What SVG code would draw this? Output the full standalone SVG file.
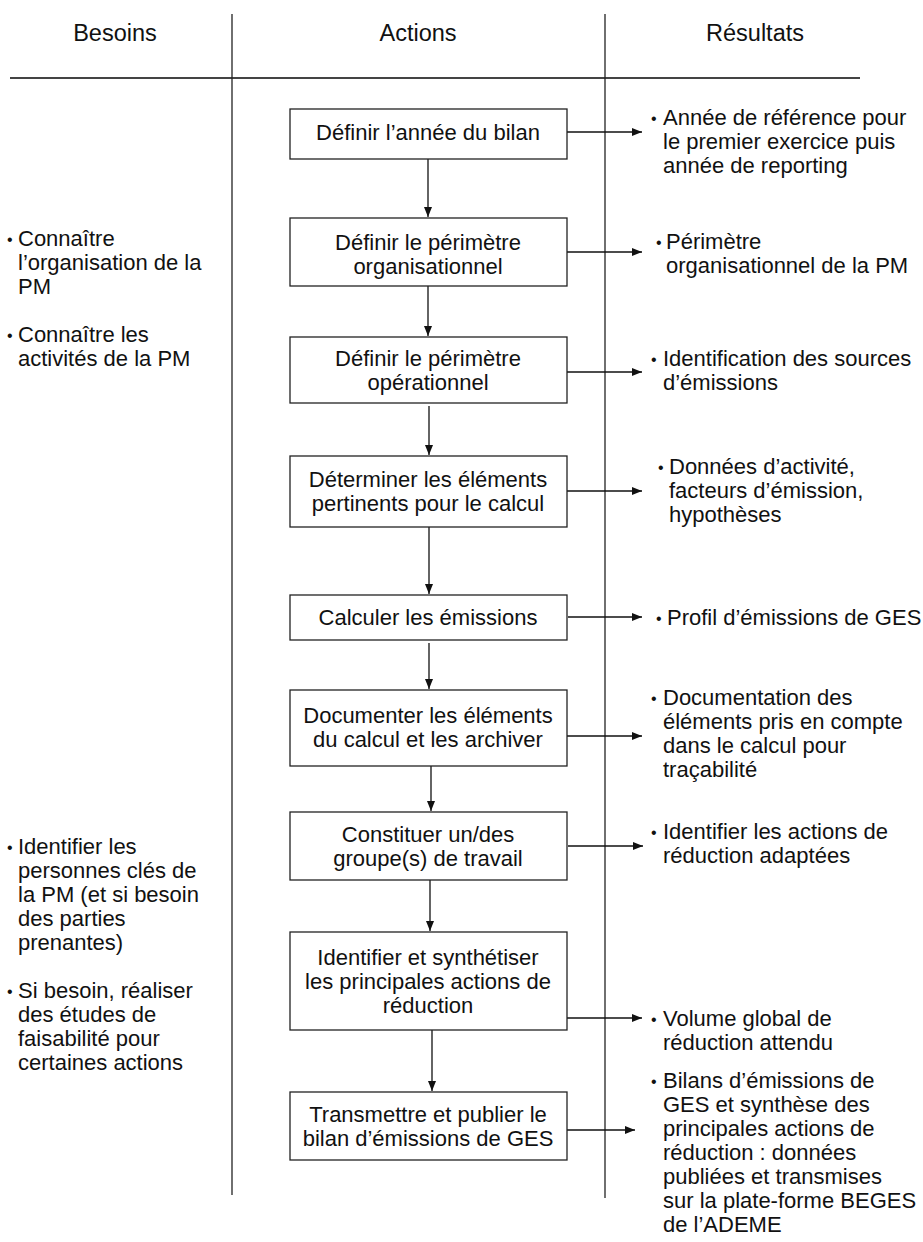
<svg xmlns="http://www.w3.org/2000/svg" width="923" height="1242" viewBox="0 0 923 1242">
<style>
text{font-family:"Liberation Sans",Arial,Helvetica,sans-serif;font-size:22px;fill:#111}
.h{font-size:23.5px}
.c{text-anchor:middle}
.b{font-size:16px}
.box{fill:#fff;stroke:#222;stroke-width:1.3}
.ln{stroke:#222;stroke-width:1.3;fill:none}
.ar{stroke:#111;stroke-width:1.3;fill:none;marker-end:url(#ah)}
</style>
<defs>
<marker id="ah" viewBox="0 0 10 8" refX="10" refY="4" markerWidth="10" markerHeight="8" markerUnits="userSpaceOnUse" orient="auto">
<path d="M0,0 L10,4 L0,8 Z" fill="#111"/>
</marker>
</defs>
<rect width="923" height="1242" fill="#fff"/>
<g id="frame">
<line class="ln" x1="10" y1="78" x2="860" y2="78" style="stroke:#444;stroke-width:2"/>
<line class="ln" x1="232" y1="14" x2="232" y2="1195"/>
<line class="ln" x1="605" y1="14" x2="605" y2="1198"/>
<text class="h c" x="115" y="41">Besoins</text>
<text class="h c" x="418" y="41">Actions</text>
<text class="h c" x="755" y="41">Résultats</text>
</g>
<g id="connectors">
<line class="ar" x1="428" y1="159" x2="428" y2="217"/>
<line class="ar" x1="428" y1="286" x2="428" y2="336"/>
<line class="ar" x1="429" y1="406" x2="429" y2="455"/>
<line class="ar" x1="429" y1="527" x2="429" y2="594"/>
<line class="ar" x1="429" y1="643" x2="429" y2="689"/>
<line class="ar" x1="431" y1="766" x2="431" y2="811"/>
<line class="ar" x1="430" y1="880" x2="430" y2="931"/>
<line class="ar" x1="432" y1="1030" x2="432" y2="1091"/>
<line class="ar" x1="567" y1="132" x2="642" y2="132"/>
<line class="ar" x1="567" y1="252" x2="642" y2="252"/>
<line class="ar" x1="567" y1="372" x2="642" y2="372"/>
<line class="ar" x1="567" y1="491" x2="642" y2="491"/>
<line class="ar" x1="568" y1="617" x2="642" y2="617"/>
<line class="ar" x1="567" y1="736" x2="642" y2="736"/>
<line class="ar" x1="568" y1="846" x2="643" y2="846"/>
<line class="ar" x1="567" y1="1018" x2="642" y2="1018"/>
<line class="ar" x1="567" y1="1130" x2="635" y2="1130"/>
</g>
<g id="n1"><rect class="box" x="290" y="109" width="277" height="50"/><text class="c" x="428" y="140">Définir l’année du bilan</text></g>
<g id="n2"><rect class="box" x="290" y="218" width="277" height="68"/><text class="c" x="428" y="250">Définir le périmètre<tspan x="428" dy="24">organisationnel</tspan></text></g>
<g id="n3"><rect class="box" x="290" y="337" width="277" height="66"/><text class="c" x="428" y="366">Définir le périmètre<tspan x="428" dy="24">opérationnel</tspan></text></g>
<g id="n4"><rect class="box" x="290" y="456" width="277" height="71"/><text class="c" x="428" y="487">Déterminer les éléments<tspan x="428" dy="24">pertinents pour le calcul</tspan></text></g>
<g id="n5"><rect class="box" x="290" y="595" width="277" height="45"/><text class="c" x="428" y="625">Calculer les émissions</text></g>
<g id="n6"><rect class="box" x="290" y="690" width="277" height="76"/><text class="c" x="428" y="723">Documenter les éléments<tspan x="428" dy="24">du calcul et les archiver</tspan></text></g>
<g id="n7"><rect class="box" x="290" y="812" width="277" height="68"/><text class="c" x="428" y="842">Constituer un/des<tspan x="428" dy="24">groupe(s) de travail</tspan></text></g>
<g id="n8"><rect class="box" x="290" y="932" width="277" height="98"/><text class="c" x="428" y="965">Identifier et synthétiser<tspan x="428" dy="24">les principales actions de</tspan><tspan x="428" dy="24">réduction</tspan></text></g>
<g id="n9"><rect class="box" x="290" y="1092" width="277" height="68"/><text class="c" x="428" y="1122">Transmettre et publier le<tspan x="428" dy="24">bilan d’émissions de GES</tspan></text></g>
<g id="besoins">
<g id="l1"><text class="b" x="7" y="245">•</text><text x="18" y="246">Connaître<tspan x="18" dy="24">l’organisation de la</tspan><tspan x="18" dy="24">PM</tspan></text></g>
<g id="l2"><text class="b" x="7" y="341">•</text><text x="18" y="342">Connaître les<tspan x="18" dy="24">activités de la PM</tspan></text></g>
<g id="l3"><text class="b" x="7" y="853">•</text><text x="18" y="854">Identifier les<tspan x="18" dy="24">personnes clés de</tspan><tspan x="18" dy="24">la PM (et si besoin</tspan><tspan x="18" dy="24">des parties</tspan><tspan x="18" dy="24">prenantes)</tspan></text></g>
<g id="l4"><text class="b" x="7" y="997">•</text><text x="18" y="998">Si besoin, réaliser<tspan x="18" dy="24">des études de</tspan><tspan x="18" dy="24">faisabilité pour</tspan><tspan x="18" dy="24">certaines actions</tspan></text></g>
</g>
<g id="resultats">
<g id="r1"><text class="b" x="651" y="124">•</text><text x="663" y="125">Année de référence pour<tspan x="663" dy="24">le premier exercice puis</tspan><tspan x="663" dy="24">année de reporting</tspan></text></g>
<g id="r2"><text class="b" x="656" y="248">•</text><text x="666" y="249">Périmètre<tspan x="666" dy="24">organisationnel de la PM</tspan></text></g>
<g id="r3"><text class="b" x="651" y="365">•</text><text x="663" y="366">Identification des sources<tspan x="663" dy="24">d’émissions</tspan></text></g>
<g id="r4"><text class="b" x="658" y="473">•</text><text x="669" y="474">Données d’activité,<tspan x="669" dy="24">facteurs d’émission,</tspan><tspan x="669" dy="24">hypothèses</tspan></text></g>
<g id="r5"><text class="b" x="656" y="624">•</text><text x="667" y="625">Profil d’émissions de GES</text></g>
<g id="r6"><text class="b" x="651" y="704">•</text><text x="663" y="705">Documentation des<tspan x="663" dy="24">éléments pris en compte</tspan><tspan x="663" dy="24">dans le calcul pour</tspan><tspan x="663" dy="24">traçabilité</tspan></text></g>
<g id="r7"><text class="b" x="651" y="838">•</text><text x="663" y="839">Identifier les actions de<tspan x="663" dy="24">réduction adaptées</tspan></text></g>
<g id="r8"><text class="b" x="651" y="1025">•</text><text x="663" y="1026">Volume global de<tspan x="663" dy="24">réduction attendu</tspan></text></g>
<g id="r9"><text class="b" x="651" y="1087">•</text><text x="663" y="1088">Bilans d’émissions de<tspan x="663" dy="24">GES et synthèse des</tspan><tspan x="663" dy="24">principales actions de</tspan><tspan x="663" dy="24">réduction : données</tspan><tspan x="663" dy="24">publiées et transmises</tspan><tspan x="663" dy="24">sur la plate-forme BEGES</tspan><tspan x="663" dy="24">de l’ADEME</tspan></text></g>
</g>
</svg>
